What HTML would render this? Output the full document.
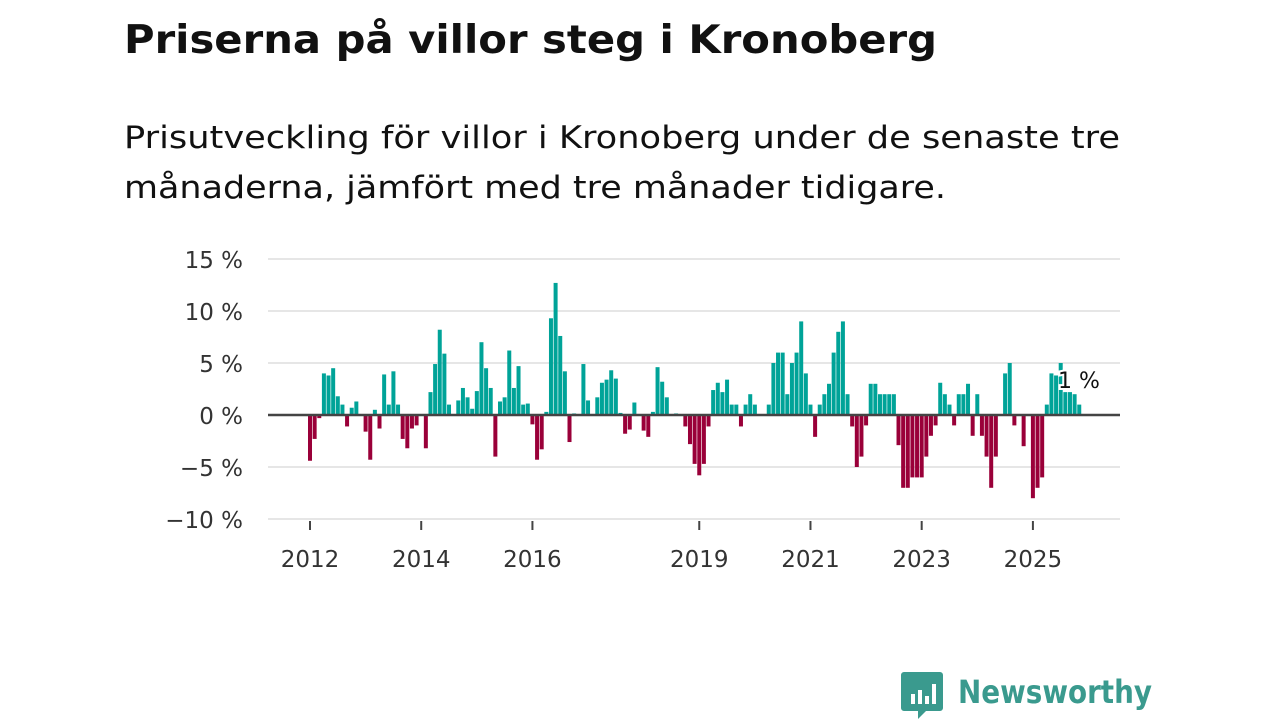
<!DOCTYPE html>
<html><head><meta charset="utf-8"><style>
body{margin:0;background:#fff;width:1280px;height:720px;overflow:hidden}
svg{display:block;font-family:"DejaVu Sans","Liberation Sans",sans-serif}
</style></head><body>
<svg width="1280" height="720">
<text x="124" y="53" font-size="39" font-weight="bold" fill="#111" textLength="813" lengthAdjust="spacingAndGlyphs">Priserna på villor steg i Kronoberg</text>
<text x="124" y="148" font-size="31" fill="#111" textLength="996" lengthAdjust="spacingAndGlyphs">Prisutveckling för villor i Kronoberg under de senaste tre</text>
<text x="124" y="198" font-size="31" fill="#111" textLength="822" lengthAdjust="spacingAndGlyphs">månaderna, jämfört med tre månader tidigare.</text>
<g id="grid"></g><g id="bars"></g><g id="xaxis"></g>
<text x="1058" y="388" font-size="22" fill="#111" stroke="#fff" stroke-width="4" paint-order="stroke">1 %</text>
<g>
<path d="M904 672 h36 a3 3 0 0 1 3 3 v33 a3 3 0 0 1 -3 3 h-14 l-8 8 v-8 h-14 a3 3 0 0 1 -3 -3 v-33 a3 3 0 0 1 3 -3z" fill="#3a9a8e"/>
<rect x="911" y="694" width="4" height="10" fill="#fff"/><rect x="918" y="690" width="4" height="14" fill="#fff"/><rect x="925" y="696" width="4" height="8" fill="#fff"/><rect x="932" y="684" width="4" height="20" fill="#fff"/>
<text x="958" y="703" font-size="32" font-weight="bold" fill="#3a9a8e" textLength="194" lengthAdjust="spacingAndGlyphs">Newsworthy</text>
</g>
</svg>
<script>
const values=[-4.4,-2.3,-0.3,4.0,3.8,4.5,1.8,1.0,-1.1,0.7,
1.3,0,-1.6,-4.3,0.5,-1.3,3.9,1.0,4.2,1.0,
-2.3,-3.2,-1.3,-1.0,0,-3.2,2.2,4.9,8.2,5.9,
1.0,0,1.4,2.6,1.7,0.6,2.3,7.0,4.5,2.6,
-4.0,1.3,1.7,6.2,2.6,4.7,1.0,1.1,-0.9,-4.3,
-3.3,0.3,9.3,12.7,7.6,4.2,-2.6,0.15,0,4.9,
1.4,0,1.7,3.1,3.4,4.3,3.5,0.2,-1.8,-1.4,
1.2,0,-1.5,-2.1,0.3,4.6,3.2,1.7,0,0.15,
0,-1.1,-2.8,-4.7,-5.8,-4.7,-1.1,2.4,3.1,2.2,
3.4,1.0,1.0,-1.1,1.0,2.0,1.0,0,0,1.0,
5.0,6.0,6.0,2.0,5.0,6.0,9.0,4.0,1.0,-2.1,
1.0,2.0,3.0,6.0,8.0,9.0,2.0,-1.1,-5.0,-4.0,
-1.0,3.0,3.0,2.0,2.0,2.0,2.0,-2.9,-7.0,-7.0,
-6.0,-6.0,-6.0,-4.0,-2.0,-1.0,3.1,2.0,1.0,-1.0,
2.0,2.0,3.0,-2.0,2.0,-2.0,-4.0,-7.0,-4.0,0,
4.0,5.0,-1.0,0,-3.0,0,-8.0,-7.0,-6.0,1.0,
4.0,3.8,5.0,2.2,2.2,2.0,1.0];
const yTicks=[15,10,5,0,-5,-10];
const yTickLabels=["15 %","10 %","5 %","0 %","\u22125 %","\u221210 %"];
const xTickYears=[2012,2014,2016,2019,2021,2023,2025];
const startYear=2012;
const NS="http://www.w3.org/2000/svg";
function y(v){return 415-v*10.4;}
function x(i){return 310+i*4.634;}
function mk(t,a,p){const e=document.createElementNS(NS,t);for(const k in a)e.setAttribute(k,a[k]);p.appendChild(e);return e;}
const grid=document.getElementById('grid'),bars=document.getElementById('bars'),xa=document.getElementById('xaxis');
yTicks.forEach((v,k)=>{
  if(v!==0){const l=mk('line',{x1:268,x2:1120,y1:y(v),y2:y(v),stroke:'#ddd','stroke-width':1.5},grid);
  
  }
  const t=mk('text',{x:243,y:y(v)+9,'text-anchor':'end','font-size':23,fill:'#333'},grid);
  t.textContent=yTickLabels[k];
  
  
});
values.forEach((v,i)=>{
  const r=mk('rect',{x:x(i)-2,width:4,y:Math.min(y(v),y(0)),height:Math.abs(y(v)-y(0)),fill:v>=0?'#00a398':'#9a0039'},bars);
  
  
});
const z=mk('line',{x1:268,x2:1120,y1:y(0),y2:y(0),stroke:'#444','stroke-width':2.5},bars);


xTickYears.forEach(yr=>{
  const px=x((yr-startYear)*12);
  const m=mk('line',{x1:px,x2:px,y1:521,y2:530,stroke:'#444','stroke-width':2},xa);
  
  
  const t=mk('text',{x:px,y:567,'text-anchor':'middle','font-size':23,fill:'#333'},xa);
  t.textContent=yr;
  
  
});
</script>
</body></html>
